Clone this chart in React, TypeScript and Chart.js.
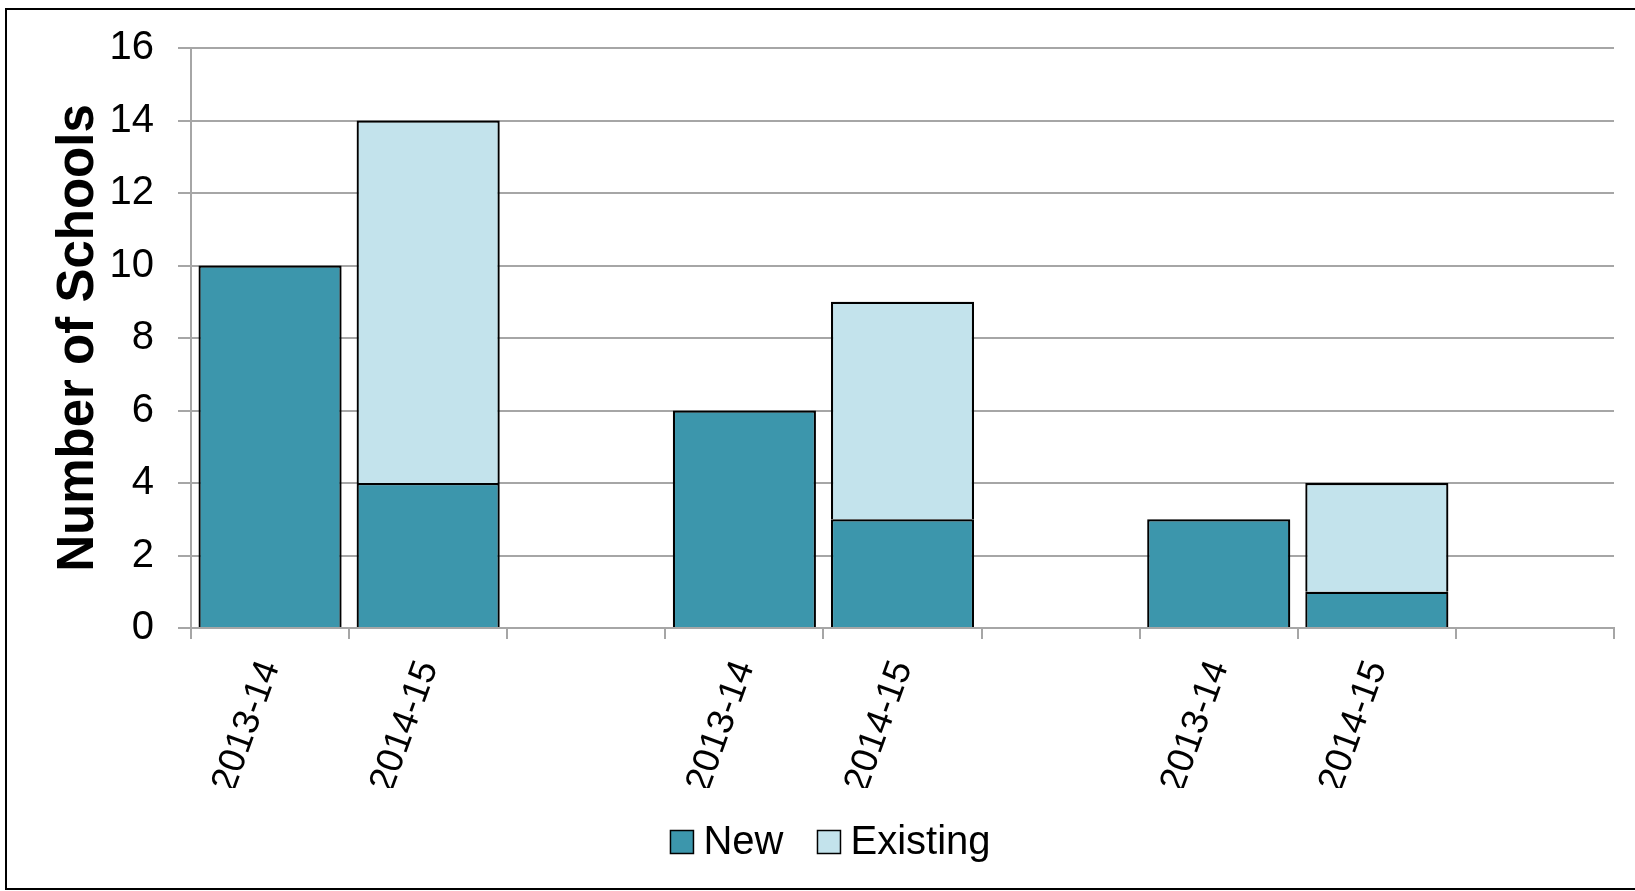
import React, { useEffect, useRef } from "react";
import { Chart, registerables } from "chart.js";

Chart.register(...registerables);

const categories = ["2013-14", "2014-15", "", "2013-14", "2014-15", "", "2013-14", "2014-15", ""];
const newSchools = [10, 4, null, 6, 3, null, 3, 1, null];
const existingSchools = [null, 10, null, null, 6, null, null, 3, null];
const yTicks = [0, 2, 4, 6, 8, 10, 12, 14, 16];

const FONT = "'Liberation Sans', Arial, Helvetica, sans-serif";

const frame = {
  id: "frame",
  beforeDraw(chart: any) {
    const ctx = chart.ctx;
    ctx.save();
    ctx.fillStyle = "#fff";
    ctx.fillRect(0, 0, chart.width, chart.height);
    ctx.restore();
  },
  beforeDatasetsDraw(chart: any) {
    const ctx = chart.ctx;
    ctx.save();
    ctx.shadowColor = "rgba(0,0,0,0.22)";
    ctx.shadowBlur = 5;
    ctx.shadowOffsetX = 1;
    ctx.shadowOffsetY = 1;
  },
  afterDatasetsDraw(chart: any) {
    chart.ctx.restore();
  },
  afterDraw(chart: any) {
    const ctx = chart.ctx;
    // custom legend
    ctx.save();
    ctx.font = `40px ${FONT}`;
    ctx.textBaseline = "middle";
    ctx.textAlign = "left";
    const box = 23;
    const gap = 10;
    const itemGap = 34;
    const items = chart.data.datasets.map((d: any) => ({
      text: d.label,
      color: d.backgroundColor,
      w: box + gap + ctx.measureText(d.label).width,
    }));
    const total = items.reduce((a: number, it: any) => a + it.w, 0) + itemGap * (items.length - 1);
    let x = 830.5 - total / 2;
    const cy = 843;
    items.forEach((it: any) => {
      ctx.fillStyle = it.color;
      ctx.fillRect(x, cy - 12.5, box, box);
      ctx.strokeStyle = "#000";
      ctx.lineWidth = 1.5;
      ctx.strokeRect(x, cy - 12.5, box, box);
      ctx.fillStyle = "#000";
      ctx.fillText(it.text, x + box + gap, cy);
      x += it.w + itemGap;
    });
    ctx.restore();
    // outer frame
    ctx.save();
    ctx.strokeStyle = "#000";
    ctx.lineWidth = 2;
    ctx.strokeRect(6, 9, chart.width + 10, chart.height - 11);
    ctx.restore();
  },
};

export default function App() {
  const ref = useRef<HTMLCanvasElement | null>(null);
  useEffect(() => {
    if (!ref.current) return;
    Chart.defaults.color = "#000";
    Chart.defaults.font.family = FONT;
    const chart = new Chart(ref.current, {
      type: "bar",
      data: {
        labels: categories,
        datasets: [
          {
            label: "New",
            data: newSchools,
            backgroundColor: "#3C96AC",
            borderColor: "#000",
            borderWidth: 2.2,
            barPercentage: 0.905,
            categoryPercentage: 1,
          },
          {
            label: "Existing",
            data: existingSchools,
            backgroundColor: "#C3E3EC",
            borderColor: "#000",
            borderWidth: 2.2,
            barPercentage: 0.905,
            categoryPercentage: 1,
          },
        ],
      },
      options: {
        responsive: false,
        animation: false,
        layout: { padding: { left: 41, right: 21, top: 44, bottom: 103 } },
        plugins: {
          tooltip: { enabled: false },
          legend: { display: false },
        },
        scales: {
          x: {
            stacked: true,
            afterFit: (s: any) => {
              s.height = 160;
            },
            grid: {
              display: true,
              drawOnChartArea: false,
              drawTicks: true,
              tickLength: 11,
              color: "#A6A6A6",
              lineWidth: 2,
              offset: true,
            },
            border: { display: true, color: "#A6A6A6", width: 2 },
            ticks: {
              autoSkip: false,
              minRotation: 70,
              maxRotation: 70,
              padding: 16,
              font: { size: 37, family: FONT },
              color: "#000",
            },
          },
          y: {
            stacked: true,
            min: 0,
            max: 16,
            afterFit: (s: any) => {
              s.width = 150;
            },
            afterBuildTicks: (s: any) => {
              s.ticks = yTicks.map((v) => ({ value: v }));
            },
            grid: {
              color: "#A6A6A6",
              lineWidth: 2,
              tickLength: 13,
              drawTicks: true,
            },
            border: { display: true, color: "#A6A6A6", width: 2 },
            ticks: {
              padding: 24,
              font: { size: 40, family: FONT },
              color: "#000",
            },
            title: {
              display: true,
              text: "Number of Schools",
              font: { size: 51, weight: "bold", family: FONT },
              color: "#000",
              padding: { top: 7, bottom: 3 },
            },
          },
        },
      },
      plugins: [frame],
    });
    return () => chart.destroy();
  }, []);
  return (
    <div style={{ position: "absolute", left: 0, top: 0, width: 1635, height: 891 }}>
      <canvas ref={ref} width={1635} height={891} style={{ display: "block" }} />
    </div>
  );
}
